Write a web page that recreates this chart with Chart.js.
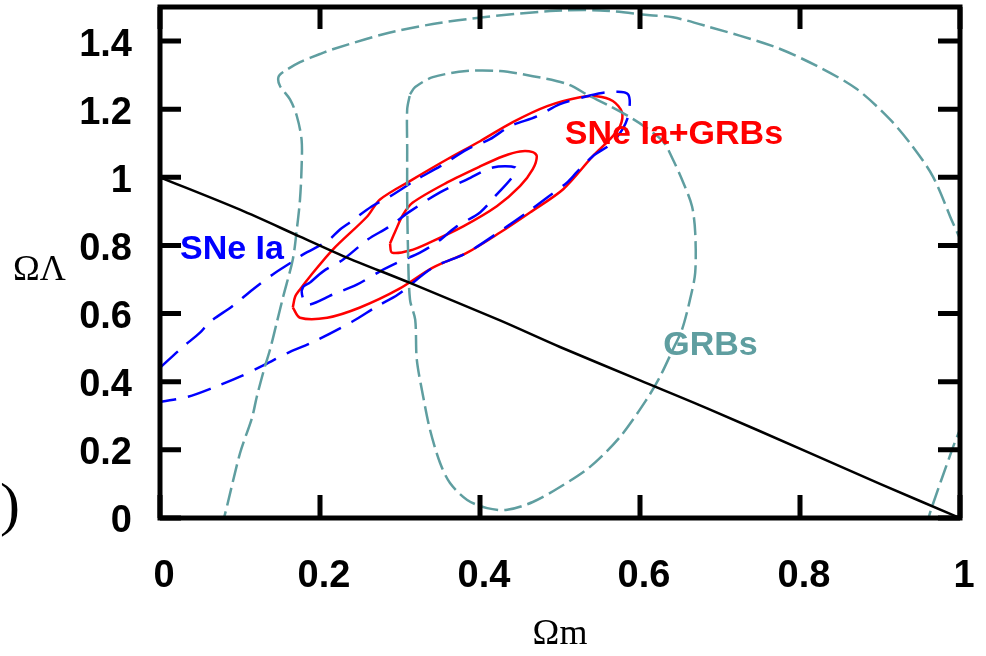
<!DOCTYPE html>
<html>
<head>
<meta charset="utf-8">
<script src="https://cdn.jsdelivr.net/npm/chart.js@4.4.1/dist/chart.umd.min.js"></script>
<style>
  html, body { margin: 0; padding: 0; background: #fff; }
  canvas { display: block; }
</style>
</head>
<body>
<canvas id="contourChart" width="986" height="656"></canvas>
<script>
// ── Axis ticks ─────────────────────────────────
const xTicks = [0, 0.2, 0.4, 0.6, 0.8, 1];
const yTicks = [0, 0.2, 0.4, 0.6, 0.8, 1, 1.2, 1.4];

// ── Flat universe line (Ωm + ΩΛ = 1) ───────────
const flatX = [0, 0.1, 0.175, 0.229, 0.3125, 0.425, 0.5, 0.6, 0.684, 0.809, 0.9, 1];
const flatY = [1, 0.905, 0.826, 0.769, 0.69, 0.58, 0.502, 0.404, 0.322, 0.194, 0.1, 0];

// ── GRBs contours (outer one runs past the frame) ──
const grbOuterX = [0.075, 0.08, 0.1, 0.115, 0.121, 0.131, 0.1375, 0.146, 0.154, 0.166, 0.171, 0.175, 0.177, 0.177, 0.171, 0.1625, 0.15, 0.148, 0.154, 0.175, 0.2, 0.216, 0.279, 0.341, 0.404, 0.4875, 0.55, 0.6125, 0.641, 0.683, 0.766, 0.821, 0.871, 0.9125, 0.941, 0.966, 0.9875, 1.01, 1.015, 1.005, 0.99, 0.9625, 0.958];
const grbOuterY = [-0.03, 0, 0.19, 0.294, 0.356, 0.444, 0.494, 0.574, 0.65, 0.759, 0.847, 0.935, 1.03, 1.11, 1.18, 1.229, 1.268, 1.294, 1.309, 1.338, 1.362, 1.376, 1.42, 1.45, 1.47, 1.488, 1.49, 1.476, 1.47, 1.444, 1.385, 1.327, 1.259, 1.17, 1.09, 1.003, 0.886, 0.75, 0.5, 0.3, 0.2, 0.015, -0.03];

const grbInnerX = [0.3125, 0.319, 0.341, 0.383, 0.425, 0.466, 0.509, 0.5375, 0.5625, 0.585, 0.605, 0.629, 0.641, 0.654, 0.665, 0.669, 0.669, 0.6625, 0.6525, 0.641, 0.625, 0.608, 0.575, 0.5375, 0.5, 0.466, 0.434, 0.409, 0.384, 0.3625, 0.35, 0.3375, 0.329, 0.321, 0.319, 0.3125, 0.31, 0.309, 0.309, 0.309, 0.3125];
const grbInnerY = [1.244, 1.265, 1.294, 1.312, 1.312, 1.297, 1.274, 1.238, 1.209, 1.18, 1.15, 1.105, 1.053, 0.985, 0.915, 0.838, 0.72, 0.641, 0.553, 0.494, 0.415, 0.347, 0.238, 0.15, 0.091, 0.047, 0.024, 0.029, 0.053, 0.103, 0.162, 0.259, 0.356, 0.465, 0.582, 0.641, 0.788, 0.935, 1.082, 1.2, 1.244];

// ── SNe Ia contours (outer one leaves through the left axis) ──
const sneOuterX = [0, 0.0275, 0.05, 0.0625, 0.09, 0.116, 0.141, 0.166, 0.179, 0.209, 0.225, 0.2375, 0.265, 0.2875, 0.321, 0.35, 0.384, 0.4125, 0.4375, 0.471, 0.5, 0.534, 0.559, 0.585, 0.584, 0.566, 0.541, 0.521, 0.509, 0.484, 0.459, 0.434, 0.384, 0.341, 0.2975, 0.271, 0.24, 0.19, 0.16, 0.131, 0.1, 0.069, 0.035, 0, -0.04, -0.06, -0.04, 0];
const sneOuterY = [0.441, 0.5, 0.544, 0.576, 0.621, 0.671, 0.715, 0.753, 0.774, 0.812, 0.847, 0.868, 0.915, 0.944, 0.994, 1.032, 1.082, 1.112, 1.15, 1.179, 1.215, 1.238, 1.25, 1.244, 1.171, 1.103, 1.062, 1.015, 0.985, 0.941, 0.897, 0.856, 0.779, 0.735, 0.656, 0.621, 0.576, 0.515, 0.485, 0.45, 0.415, 0.385, 0.356, 0.341, 0.33, 0.39, 0.43, 0.441];

const sneInnerX = [0.1875, 0.204, 0.229, 0.26, 0.285, 0.3125, 0.35, 0.384, 0.416, 0.444, 0.441, 0.421, 0.4, 0.371, 0.346, 0.325, 0.3, 0.275, 0.246, 0.216, 0.184, 0.1775, 0.179, 0.1875];
const sneInnerY = [0.691, 0.724, 0.759, 0.818, 0.853, 0.9, 0.956, 0.994, 1.029, 1.029, 1.003, 0.95, 0.897, 0.856, 0.809, 0.779, 0.753, 0.724, 0.685, 0.656, 0.626, 0.656, 0.679, 0.691];

// ── SNe Ia + GRBs contours ─────────────────────
const jointOuterX = [0.166, 0.175, 0.209, 0.25, 0.3, 0.341, 0.384, 0.425, 0.4625, 0.504, 0.541, 0.5625, 0.575, 0.5775, 0.566, 0.546, 0.525, 0.484, 0.441, 0.4, 0.359, 0.316, 0.275, 0.259, 0.216, 0.1875, 0.175, 0.169, 0.166];
const jointOuterY = [0.618, 0.588, 0.588, 0.618, 0.674, 0.735, 0.779, 0.838, 0.897, 0.965, 1.062, 1.112, 1.15, 1.191, 1.224, 1.238, 1.235, 1.209, 1.162, 1.106, 1.053, 0.994, 0.935, 0.885, 0.788, 0.709, 0.671, 0.65, 0.618];

const jointInnerX = [0.2875, 0.29, 0.3125, 0.3375, 0.379, 0.421, 0.45, 0.466, 0.471, 0.466, 0.45, 0.429, 0.4, 0.359, 0.316, 0.304, 0.294, 0.2875];
const jointInnerY = [0.806, 0.779, 0.785, 0.809, 0.856, 0.915, 0.974, 1.024, 1.062, 1.074, 1.076, 1.062, 1.032, 0.985, 0.926, 0.891, 0.841, 0.806];

// ── Colours / fonts ────────────────────────────
const BLUE = '#0000ff', RED = '#ff0000', TEAL = '#5f9ea0', BLACK = '#000000';
const SANS = "'Liberation Sans', Arial, sans-serif";
const SERIF = "'Liberation Serif', 'Times New Roman', serif";

// in-plot labels: anchor = left edge / baseline, in data units
const plotLabels = [
    { text: 'SNe Ia', x: 0.025, y: 0.759, color: BLUE },
    { text: 'SNe Ia+GRBs', x: 0.506, y: 1.097, color: RED },
    { text: 'GRBs', x: 0.629, y: 0.479, color: TEAL }
];

function pts(xs, ys) {
    return xs.map((x, i) => ({ x: x, y: ys[i] }));
}

function contour(xs, ys, color, width, dash) {
    return {
        data: pts(xs, ys),
        showLine: true,
        borderColor: color,
        borderWidth: width,
        borderDash: dash || [],
        tension: 0.3,
        pointRadius: 0,
        clip: 0
    };
}

// ── Frame with inward ticks on all four sides ──
const frameTicks = {
    id: 'frameTicks',
    afterDatasetsDraw(chart) {
        const { ctx, chartArea: a, scales: { x, y } } = chart;
        ctx.save();
        ctx.strokeStyle = BLACK;
        ctx.lineWidth = 5;
        ctx.beginPath();
        xTicks.forEach(v => {
            const px = x.getPixelForValue(v);
            ctx.moveTo(px, a.bottom); ctx.lineTo(px, a.bottom - 23);
            ctx.moveTo(px, a.top); ctx.lineTo(px, a.top + 22);
        });
        yTicks.forEach(v => {
            const py = y.getPixelForValue(v);
            ctx.moveTo(a.left, py); ctx.lineTo(a.left + 21, py);
            ctx.moveTo(a.right, py); ctx.lineTo(a.right - 22, py);
        });
        ctx.stroke();
        ctx.strokeRect(a.left, a.top, a.right - a.left, a.bottom - a.top);
        ctx.restore();
    }
};

// ── Text labels ────────────────────────────────
const textLabels = {
    id: 'textLabels',
    afterDraw(chart) {
        const { ctx, scales: { x, y } } = chart;
        ctx.save();
        ctx.textAlign = 'left';
        ctx.textBaseline = 'alphabetic';
        ctx.font = 'bold 34px ' + SANS;
        plotLabels.forEach(l => {
            ctx.fillStyle = l.color;
            ctx.fillText(l.text, x.getPixelForValue(l.x), y.getPixelForValue(l.y));
        });
        // y-axis title, written horizontally
        ctx.fillStyle = BLACK;
        ctx.font = '36px ' + SERIF;
        ctx.fillText('ΩΛ', 13, 280);
        // stray bracket left over from the source page
        ctx.font = '60px ' + SERIF;
        ctx.fillText(')', 0, 524);
        ctx.restore();
    }
};

new Chart(document.getElementById('contourChart'), {
    type: 'scatter',
    data: {
        datasets: [
            contour(flatX, flatY, BLACK, 2.5),
            contour(grbOuterX, grbOuterY, TEAL, 2.5, [18, 6]),
            contour(grbInnerX, grbInnerY, TEAL, 2.5, [18, 6]),
            contour(sneOuterX, sneOuterY, BLUE, 2.5, [24, 12]),
            contour(sneInnerX, sneInnerY, BLUE, 2.5, [24, 12]),
            contour(jointOuterX, jointOuterY, RED, 2.5),
            contour(jointInnerX, jointInnerY, RED, 2.5)
        ]
    },
    options: {
        responsive: false,
        animation: false,
        layout: { padding: { left: 0, right: 26, top: 7, bottom: 0 } },
        plugins: { legend: { display: false }, tooltip: { enabled: false } },
        scales: {
            x: {
                type: 'linear', min: 0, max: 1,
                afterBuildTicks: s => { s.ticks = xTicks.map(v => ({ value: v })); },
                afterFit: s => { s.height = 138; s.paddingLeft = 0; s.paddingRight = 0; },
                grid: { display: false, drawTicks: false },
                border: { display: false },
                ticks: {
                    padding: 36, labelOffset: 4, color: BLACK, maxRotation: 0,
                    font: { family: SANS, size: 38, weight: 'bold' },
                    callback: v => String(v)
                },
                title: {
                    display: true, text: 'Ωm', color: BLACK,
                    font: { family: SERIF, size: 36 }, padding: 0
                }
            },
            y: {
                type: 'linear', min: 0, max: 1.5,
                afterBuildTicks: s => { s.ticks = yTicks.map(v => ({ value: v })); },
                afterFit: s => { s.width = 160; s.paddingTop = 0; s.paddingBottom = 0; },
                grid: { display: false, drawTicks: false },
                border: { display: false },
                ticks: {
                    padding: 28, labelOffset: 4, color: BLACK,
                    font: { family: SANS, size: 38, weight: 'bold' },
                    callback: v => String(v)
                }
            }
        }
    },
    plugins: [frameTicks, textLabels]
});
</script>
</body>
</html>
